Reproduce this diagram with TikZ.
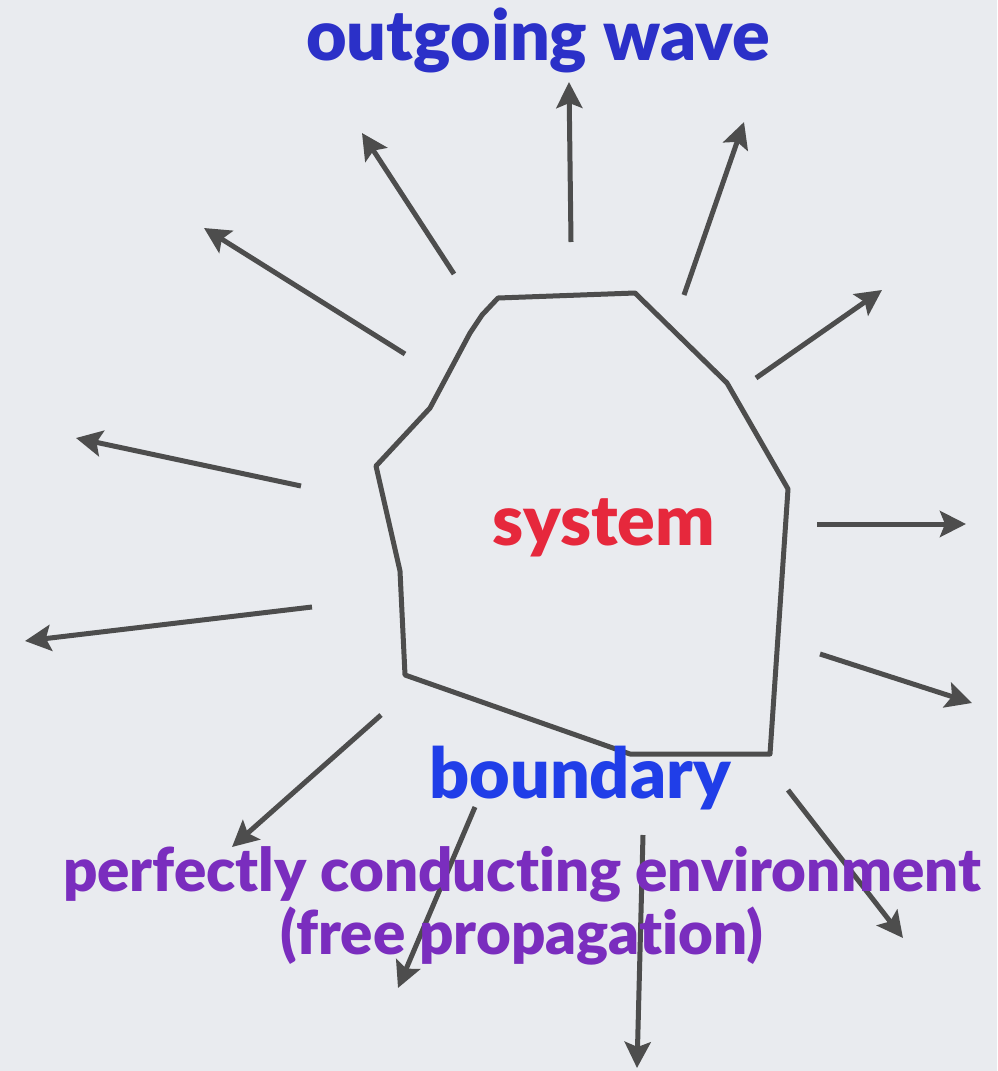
\documentclass[tikz,border=0pt]{standalone}
\usepackage{fontspec}
\setmainfont{Lato}[BoldFont={Lato Black}, RawFeature=-liga]
\usetikzlibrary{arrows.meta}
\definecolor{bggray}{RGB}{233,235,239}
\definecolor{arrowgray}{RGB}{77,77,77}
\definecolor{waveblue}{RGB}{43,48,200}
\definecolor{systemred}{RGB}{230,40,60}
\definecolor{boundblue}{RGB}{32,62,232}
\definecolor{envpurple}{RGB}{122,45,190}
\tikzset{
  wavearrow/.style={
    -{Stealth[length=26pt,width=26pt,inset=5pt]},
    draw=arrowgray, line width=5pt
  },
  boundaryline/.style={
    draw=arrowgray, line width=5pt, line join=round
  },
  bigtext/.style={
    font=\fontsize{70}{76}\selectfont\bfseries, inner sep=0pt
  },
  envtext/.style={
    font=\fontsize{60}{63}\selectfont\bfseries, inner sep=0pt
  },
}
\begin{document}
\begin{tikzpicture}[x=1pt,y=-1pt]

  %% background
  \fill[bggray] (0,0) rectangle (997,1071);
  \useasboundingbox (0,0) rectangle (997,1071);

  %% boundary of the system
  \draw[boundaryline] (498,298) -- (635,293) -- (727,383) -- (788,489)
    -- (770,754) -- (630,754) -- (405,675) -- (400,571) -- (376,466)
    -- (430,408) -- (470,333) -- (482,315) -- cycle;

  %% labels
  \node[bigtext, text=waveblue] (wave) at (538,40) {outgoing wave};
  \node[bigtext, text=systemred] (sys) at (604,528) {system};
  \node[bigtext, text=boundblue] (bound) at (580,778) {boundary};

  %% outgoing arrows
  \foreach \i/\sx/\sy/\ex/\ey in {
      1/571/242/569/82,   2/454/274/362/133,  3/405/354/204/228,
      4/301/486/76/438,   5/312/607/25/641,   6/381/715/232/847,
      7/475/807/398/988,  8/643/835/637/1068, 9/788/790/903/938,
      10/820/654/972/703, 11/817/524/966/524, 12/756/378/882/290,
      13/684/295/744/122} {
    \coordinate (s\i) at (\sx,\sy);
    \coordinate (e\i) at (\ex,\ey);
    \draw[wavearrow] (s\i) -- (e\i);
  }

  %% environment
  \node[envtext, text=envpurple, align=center] (env) at (522,906)
    {perfectly conducting environment\\(free propagation)};

\end{tikzpicture}
\end{document}
